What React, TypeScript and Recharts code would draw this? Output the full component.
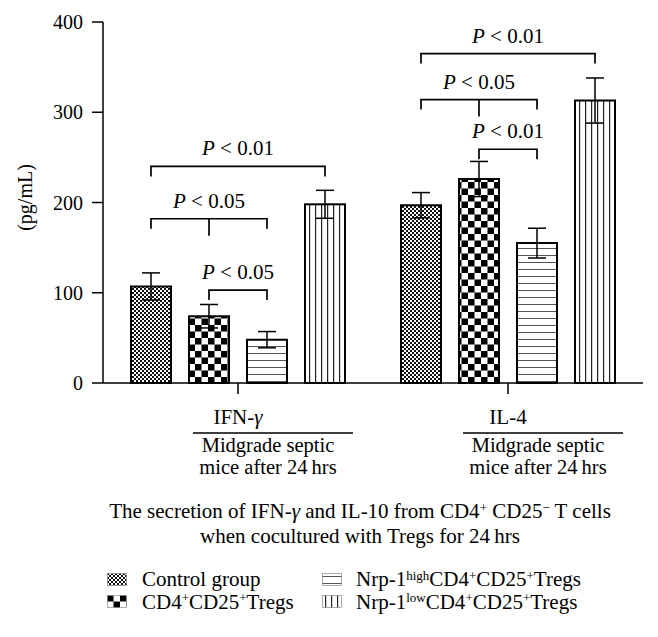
import React from 'react';
import { BarChart, Bar, XAxis, YAxis, ErrorBar, Legend } from 'recharts';

// cytokine groups on the x axis
const categories = ['IFN-γ', 'IL-4'];
const groupNote = ['Midgrade septic', 'mice after 24\u2009hrs'];

// mean secretion (pg/mL) per group, one array per co-culture condition
const controlValues = [107, 197];
const tregValues = [74, 226];
const nrpHighValues = [48, 155];
const nrpLowValues = [198, 313];

// error (± pg/mL)
const controlErrors = [15, 14];
const tregErrors = [13, 19.5];
const nrpHighErrors = [9, 16.5];
const nrpLowErrors = [15.5, 25];

const yTicks = [0, 100, 200, 300, 400];

// legend order (column by column)
const seriesKeys = ['control', 'treg', 'nrpHigh', 'nrpLow'];

// significance brackets: bar index inside the group, level in pg/mL
const brackets = [
  { group: 'IFN-γ', from: 0, to: 3, level: 240, p: '0.01' },
  { group: 'IFN-γ', from: 0, to: 2, mid: 1, level: 182, p: '0.05' },
  { group: 'IFN-γ', from: 1, to: 2, level: 103, p: '0.05' },
  { group: 'IL-4', from: 0, to: 3, level: 365, p: '0.01' },
  { group: 'IL-4', from: 0, to: 2, mid: 1, level: 314, p: '0.05' },
  { group: 'IL-4', from: 1, to: 2, level: 259, p: '0.01' },
];

const chartData = categories.map((name, i) => ({
  name,
  control: controlValues[i],
  controlErr: controlErrors[i],
  treg: tregValues[i],
  tregErr: tregErrors[i],
  nrpHigh: nrpHighValues[i],
  nrpHighErr: nrpHighErrors[i],
  nrpLow: nrpLowValues[i],
  nrpLowErr: nrpLowErrors[i],
}));

const FONT = '"Liberation Serif", "Times New Roman", serif';
const BAR_SIZE = 40;
const BAR_GAP = 18;

const fills: Record<string, string> = {
  control: 'url(#pat-control)',
  treg: 'url(#pat-treg)',
  nrpHigh: 'url(#pat-high)',
  nrpLow: 'url(#pat-low)',
};

const sup = (s: string) => (
  <sup style={{ fontSize: '0.62em', lineHeight: 0, verticalAlign: 'baseline', position: 'relative', top: '-0.5em' }}>{s}</sup>
);

const legendLabels: Record<string, React.ReactNode> = {
  control: <>Control group</>,
  treg: <>CD4{sup('+')}CD25{sup('+')}Tregs</>,
  nrpHigh: <>Nrp-1{sup('high')}CD4{sup('+')}CD25{sup('+')}Tregs</>,
  nrpLow: <>Nrp-1{sup('low')}CD4{sup('+')}CD25{sup('+')}Tregs</>,
};

const Patterns = () => (
  <svg width={0} height={0} style={{ position: 'absolute' }}>
    <defs>
      <pattern id="pat-control" patternUnits="userSpaceOnUse" width={4} height={4}>
        <rect width={4} height={4} fill="#fff" />
        <rect width={2} height={2} fill="#111" />
        <rect x={2} y={2} width={2} height={2} fill="#111" />
      </pattern>
      <pattern id="pat-treg" patternUnits="userSpaceOnUse" width={13} height={13}>
        <rect width={13} height={13} fill="#fff" />
        <rect width={6.5} height={6.5} fill="#000" />
        <rect x={6.5} y={6.5} width={6.5} height={6.5} fill="#000" />
      </pattern>
      <pattern id="pat-high" patternUnits="userSpaceOnUse" width={7} height={7}>
        <rect width={7} height={7} fill="#fff" />
        <rect x={0} y={3} width={7} height={1} fill="#555" />
      </pattern>
      <pattern id="pat-low" patternUnits="userSpaceOnUse" width={6} height={6}>
        <rect width={6} height={6} fill="#fff" />
        <rect x={3} y={0} width={1.2} height={6} fill="#222" />
      </pattern>
    </defs>
  </svg>
);

const italicGamma = (label: string) => {
  const parts = label.split('γ');
  if (parts.length === 1) return label;
  return (
    <>
      {parts[0]}
      <tspan fontStyle="italic">γ</tspan>
      {parts[1]}
    </>
  );
};

const GroupTick = ({ x, y, payload }: any) => (
  <g fontFamily={FONT} fill="#000">
    <text x={x} y={y + 28} textAnchor="middle" fontSize={21}>
      {italicGamma(payload.value)}
    </text>
    <line x1={x - 45} x2={x + 115} y1={y + 37} y2={y + 37} stroke="#000" strokeWidth={1.5} />
    <text x={x + 30} y={y + 56} textAnchor="middle" fontSize={20.5}>
      {groupNote[0]}
    </text>
    <text x={x + 30} y={y + 78} textAnchor="middle" fontSize={20.5}>
      {groupNote[1]}
    </text>
  </g>
);

const YUnitLabel = (props: any) => {
  const vb = props.viewBox ?? { x: 0, y: 22, width: 103, height: 361 };
  const cx = vb.x + 25;
  const cy = vb.y + vb.height / 2 - 5;
  return (
    <text
      x={cx}
      y={cy}
      transform={`rotate(-90 ${cx} ${cy})`}
      textAnchor="middle"
      dominantBaseline="central"
      fontFamily={FONT}
      fontSize={20}
      fill="#000"
    >
      (pg/mL)
    </text>
  );
};

// last bar of each group also carries the significance brackets of that group
const LowBarWithBrackets = (props: any) => {
  const { x, y, width, height, fill, stroke, strokeWidth, payload } = props;
  const value = payload?.nrpLow ?? props.value;
  const base = y + height;
  const toY = (v: number) => base - (v / value) * height;
  const step = width + BAR_GAP;
  const slotX = (slot: number) => x + width / 2 + (slot - 3) * step;

  return (
    <g>
      <rect x={x} y={y} width={width} height={height} fill={fill} stroke={stroke} strokeWidth={strokeWidth} />
      {brackets
        .filter((b) => b.group === payload?.name)
        .map((b, i) => {
          const x1 = slotX(b.from);
          const x2 = slotX(b.to);
          const ly = toY(b.level);
          return (
            <g key={i}>
              <polyline
                points={`${x1},${ly + 10} ${x1},${ly} ${x2},${ly} ${x2},${ly + 10}`}
                fill="none"
                stroke="#000"
                strokeWidth={1.7}
              />
              {b.mid !== undefined && (
                <line x1={slotX(b.mid)} x2={slotX(b.mid)} y1={ly} y2={ly + 17} stroke="#000" strokeWidth={1.7} />
              )}
              <text
                x={(x1 + x2) / 2}
                y={ly - 11}
                textAnchor="middle"
                fontFamily={FONT}
                fontSize={21}
                fill="#000"
              >
                <tspan fontStyle="italic">P</tspan>
                {' < ' + b.p}
              </text>
            </g>
          );
        })}
    </g>
  );
};

const LegendContent = () => (
  <div
    style={{
      display: 'grid',
      gridAutoFlow: 'column',
      gridTemplateRows: '22.5px 22.5px',
      gridTemplateColumns: '215px 300px',
      fontFamily: FONT,
      fontSize: 21,
      color: '#000',
    }}
  >
    {seriesKeys.map((k) => (
      <div key={k} style={{ display: 'flex', alignItems: 'center', whiteSpace: 'nowrap', lineHeight: '22.5px' }}>
        <svg width={20} height={13} style={{ marginRight: k === 'control' || k === 'treg' ? 15 : 14, flex: 'none' }}>
          <rect x={0.5} y={0.5} width={19} height={12} fill={fills[k]} stroke="#777" strokeWidth={0.6} />
        </svg>
        <span>{legendLabels[k]}</span>
      </div>
    ))}
  </div>
);

export default function App() {
  return (
    <div style={{ position: 'absolute', left: 0, top: 0, width: 658, height: 637, background: '#fff', fontFamily: FONT }}>
      <Patterns />
      <BarChart
        width={658}
        height={637}
        data={chartData}
        margin={{ top: 22, right: 15, left: 0, bottom: 164 }}
        barSize={BAR_SIZE}
        barGap={BAR_GAP}
      >
        <YAxis
          width={103}
          domain={[0, 400]}
          ticks={yTicks}
          interval={0}
          tickSize={11}
          tickMargin={9}
          axisLine={{ stroke: '#000', strokeWidth: 1.5 }}
          tickLine={{ stroke: '#000', strokeWidth: 1.5 }}
          tick={{ fill: '#000', fontSize: 20, fontFamily: FONT }}
          label={{ content: YUnitLabel }}
        />
        <XAxis
          dataKey="name"
          height={90}
          interval={0}
          tickSize={11}
          axisLine={{ stroke: '#000', strokeWidth: 1.5 }}
          tickLine={{ stroke: '#000', strokeWidth: 1.5 }}
          tick={<GroupTick />}
        />
        <Legend
          layout="horizontal"
          verticalAlign="middle"
          align="center"
          wrapperStyle={{ top: 568, left: 107, width: 540 }}
          content={<LegendContent />}
        />
        <Bar dataKey="control" fill={fills.control} stroke="#000" strokeWidth={2} isAnimationActive={false}>
          <ErrorBar dataKey="controlErr" width={9} stroke="#000" strokeWidth={1.5} />
        </Bar>
        <Bar dataKey="treg" fill={fills.treg} stroke="#000" strokeWidth={2} isAnimationActive={false}>
          <ErrorBar dataKey="tregErr" width={9} stroke="#000" strokeWidth={1.5} />
        </Bar>
        <Bar dataKey="nrpHigh" fill={fills.nrpHigh} stroke="#000" strokeWidth={2} isAnimationActive={false}>
          <ErrorBar dataKey="nrpHighErr" width={9} stroke="#000" strokeWidth={1.5} />
        </Bar>
        <Bar
          dataKey="nrpLow"
          fill={fills.nrpLow}
          stroke="#000"
          strokeWidth={2}
          isAnimationActive={false}
          shape={<LowBarWithBrackets />}
        >
          <ErrorBar dataKey="nrpLowErr" width={9} stroke="#000" strokeWidth={1.5} />
        </Bar>
      </BarChart>
      <div
        style={{
          position: 'absolute',
          left: 60,
          top: 499,
          width: 600,
          textAlign: 'center',
          fontSize: 21,
          lineHeight: '25px',
          color: '#000',
        }}
      >
        <div>
          The secretion of IFN-<i>γ</i> and IL-10 from CD4{sup('+')} CD25{sup('−')} T cells
        </div>
        <div>when cocultured with Tregs for 24{'\u2009'}hrs</div>
      </div>
    </div>
  );
}
